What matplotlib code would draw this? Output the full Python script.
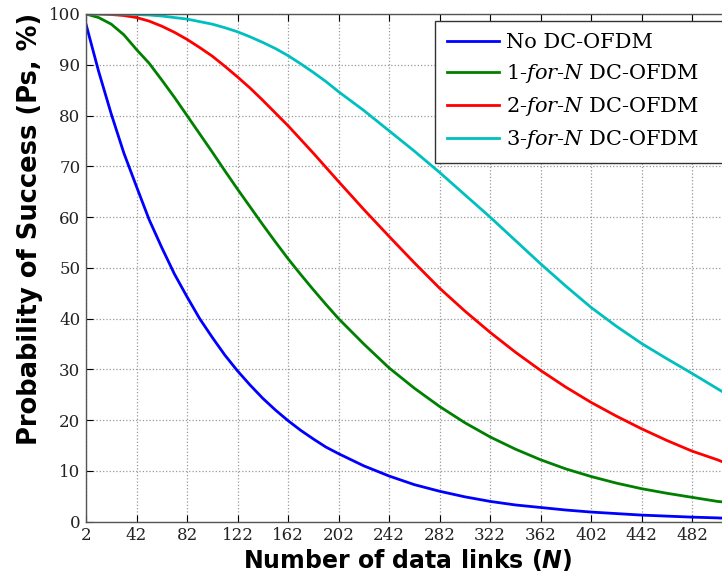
import matplotlib
matplotlib.use('Agg')
import matplotlib.pyplot as plt

# valores (mas densos al inicio, donde hay curvatura)
N = [2, 12, 22, 32, 42, 52, 62, 72, 82, 92, 102, 112, 122, 132, 142, 152,
     162, 172, 182, 192, 202, 222, 242, 262, 282, 302, 322, 342, 362, 382,
     402, 422, 442, 462, 482, 502, 506]

ps_none = [98, 88.7, 80.3, 72.6, 66, 59.5, 54, 48.8, 44.3, 40, 36.3, 32.8,
           29.7, 26.9, 24.3, 22, 19.9, 18, 16.3, 14.7, 13.4, 11, 9, 7.3,
           6, 4.9, 4.0, 3.3, 2.8, 2.3, 1.9, 1.6, 1.3, 1.1, 0.9, 0.75, 0.7]
ps_1forN = [100, 99.3, 98, 95.9, 93, 90.3, 87, 83.6, 80, 76.4, 72.8, 69.1,
            65.5, 62, 58.5, 55.1, 51.8, 48.7, 45.7, 42.8, 40, 35, 30.3,
            26.3, 22.7, 19.5, 16.7, 14.3, 12.2, 10.4, 8.9, 7.6, 6.5, 5.6,
            4.8, 4.0, 3.9]
ps_2forN = [100, 100, 99.9, 99.7, 99.3, 98.6, 97.6, 96.4, 95, 93.4, 91.7,
            89.7, 87.6, 85.4, 83, 80.5, 78, 75.3, 72.6, 69.8, 67, 61.5,
            56.2, 51, 46, 41.5, 37.3, 33.4, 29.8, 26.5, 23.5, 20.8, 18.3,
            16, 13.9, 12.2, 11.8]
ps_3forN = [100, 100, 100, 100, 99.9, 99.8, 99.6, 99.3, 99, 98.5, 98, 97.3,
            96.5, 95.5, 94.4, 93.2, 91.8, 90.2, 88.5, 86.7, 84.7, 81, 77,
            73, 68.8, 64.4, 60, 55.4, 50.8, 46.4, 42.2, 38.5, 35.1, 32.1,
            29.2, 26.2, 25.6]

etiquetas = ['No DC-OFDM',
             r'$\mathit{1}$-$\mathit{for}$-$\mathit{N}$ DC-OFDM',
             r'$\mathit{2}$-$\mathit{for}$-$\mathit{N}$ DC-OFDM',
             r'$\mathit{3}$-$\mathit{for}$-$\mathit{N}$ DC-OFDM']
colores = ['#0000ff', '#008000', '#ff0000', '#00bfbf']

xticks = list(range(2, 483, 40))
yticks = list(range(0, 101, 10))

plt.rcParams['mathtext.fontset'] = 'custom'
plt.rcParams['mathtext.rm'] = 'DejaVu Serif'
plt.rcParams['mathtext.it'] = 'DejaVu Serif:italic'
plt.rcParams['mathtext.bfit'] = 'DejaVu Sans:italic:bold'

fig = plt.figure(figsize=(7.22, 5.8), dpi=100)
# el eje se sale un poco por la derecha, como en la imagen recortada
ax = fig.add_axes([86 / 722, 1 - 521.7 / 580, 644 / 722, (521.7 - 14) / 580])

for serie, lab, col in zip([ps_none, ps_1forN, ps_2forN, ps_3forN], etiquetas, colores):
    ax.plot(N, serie, color=col, lw=2.0, label=lab)

ax.set_xlim(2, 512)
ax.set_ylim(0, 100)
ax.set_xticks(xticks)
ax.set_yticks(yticks)
ax.grid(True, linestyle=':', color='#999999', lw=0.9)
ax.tick_params(direction='in', top=True, right=True, length=5, width=0.8,
               labelsize=12, pad=4)
for lbl in ax.get_xticklabels() + ax.get_yticklabels():
    lbl.set_family('DejaVu Serif')
    lbl.set_color('#222222')
for s in ax.spines.values():
    s.set_color('#555555')
    s.set_linewidth(1.0)

ax.set_xlabel(r'Number of data links ($\mathbfit{N}$)', fontsize=17,
              fontweight='bold', family='DejaVu Sans', labelpad=2)
ax.set_ylabel('Probability of Success (Ps, %)', fontsize=18.5,
              fontweight='bold', family='DejaVu Sans')
ax.yaxis.set_label_coords(-0.067, 0.577)

# leyenda: el recuadro se sale por la derecha de la figura
x0 = (434.7 - 86) / 644
y0 = (521.7 - 21) / 507.7
leg = ax.legend(loc='upper left', bbox_to_anchor=(x0, y0, (745 - 434.7) / 644, 0),
                mode='expand', prop={'family': 'DejaVu Serif', 'size': 15},
                handlelength=2.5, fancybox=False, edgecolor='#333333',
                framealpha=1, borderaxespad=0, labelspacing=0.47,
                handletextpad=0.3, borderpad=0.6)
leg.get_frame().set_linewidth(1.0)

fig.savefig('out.png', dpi=100)
